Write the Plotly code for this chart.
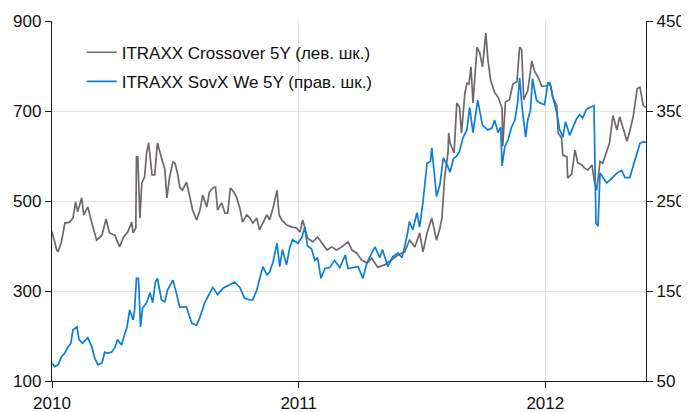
import plotly.graph_objects as go

# ITRAXX Crossover 5Y (left axis)
cross_dates = [
    "2010-01-01","2010-01-08","2010-01-10","2010-01-15","2010-01-20","2010-01-27","2010-02-01","2010-02-05",
    "2010-02-08","2010-02-14","2010-02-17","2010-02-23","2010-03-01","2010-03-08","2010-03-16","2010-03-22",
    "2010-03-27","2010-04-04","2010-04-11","2010-04-17","2010-04-23","2010-04-29","2010-05-01","2010-05-05",
    "2010-05-06","2010-05-08","2010-05-11","2010-05-14","2010-05-18","2010-05-21","2010-05-24","2010-05-29",
    "2010-06-02","2010-06-06","2010-06-12","2010-06-17","2010-06-20","2010-06-24","2010-06-29","2010-07-02",
    "2010-07-06","2010-07-09","2010-07-13","2010-07-19","2010-07-24","2010-07-28","2010-08-03","2010-08-08",
    "2010-08-12","2010-08-18","2010-08-22","2010-08-27","2010-08-31","2010-09-03","2010-09-09","2010-09-14",
    "2010-09-18","2010-09-22","2010-09-27","2010-10-01","2010-10-06","2010-10-10","2010-10-16","2010-10-21",
    "2010-10-25","2010-10-31","2010-11-04","2010-11-09","2010-11-15","2010-11-19","2010-11-24","2010-11-30",
    "2010-12-03","2010-12-07","2010-12-14","2010-12-22","2010-12-29","2011-01-03","2011-01-07","2011-01-14",
    "2011-01-22","2011-01-29","2011-02-04","2011-02-12","2011-02-19","2011-02-26","2011-03-06","2011-03-15",
    "2011-03-21","2011-03-28","2011-04-04","2011-04-12","2011-04-19","2011-04-28","2011-05-08","2011-05-19",
    "2011-05-28","2011-06-07","2011-06-14","2011-06-22","2011-06-29","2011-07-04","2011-07-10","2011-07-17",
    "2011-07-21","2011-07-24","2011-07-29","2011-08-01","2011-08-05","2011-08-10","2011-08-11","2011-08-13",
    "2011-08-19","2011-08-23","2011-08-27","2011-08-30","2011-09-04","2011-09-07","2011-09-10","2011-09-13",
    "2011-09-16","2011-09-22","2011-09-26","2011-09-30","2011-10-05","2011-10-08","2011-10-12","2011-10-18",
    "2011-10-23","2011-10-29","2011-10-30","2011-11-03","2011-11-09","2011-11-14","2011-11-20","2011-11-24",
    "2011-11-27","2011-11-30","2011-12-06","2011-12-12","2011-12-16","2011-12-21","2011-12-27","2012-01-03",
    "2012-01-08","2012-01-12","2012-01-18","2012-01-20","2012-01-25","2012-01-27","2012-02-02","2012-02-03",
    "2012-02-09","2012-02-14","2012-02-18","2012-02-24","2012-02-28","2012-03-04","2012-03-10","2012-03-14",
    "2012-03-17","2012-03-22","2012-03-26","2012-04-01","2012-04-05","2012-04-10","2012-04-16","2012-04-20",
    "2012-04-25","2012-05-01","2012-05-05","2012-05-10","2012-05-16","2012-05-20","2012-05-25","2012-05-29",
]
cross_vals = [
    432,391,387,409,451,453,462,498,
    476,507,469,487,451,413,424,460,
    429,424,398,420,431,453,429,440,
    598,598,462,540,553,607,629,558,
    558,629,596,570,507,553,587,584,
    560,531,524,542,509,480,458,480,
    513,487,520,529,531,480,496,473,
    473,529,520,509,484,453,469,462,
    451,462,436,451,469,458,484,524,
    469,458,447,442,440,431,458,418,
    409,420,407,391,398,391,398,409,
    391,384,369,362,373,353,358,369,
    380,387,413,398,429,387,429,462,
    429,413,440,462,553,607,651,629,
    607,718,709,651,740,762,760,798,
    718,842,829,798,873,815,769,741,
    731,707,622,720,725,760,765,842,
    836,725,745,811,789,776,755,756,
    762,730,712,651,640,602,598,551,
    560,613,585,580,573,569,580,541,
    524,588,584,613,629,690,658,687,
    664,633,655,687,750,753,712,708,
]

# ITRAXX SovX We 5Y (right axis)
sovx_dates = [
    "2010-01-01","2010-01-05","2010-01-10","2010-01-15","2010-01-20","2010-01-24","2010-01-29","2010-02-01",
    "2010-02-07","2010-02-10","2010-02-15","2010-02-23","2010-03-01","2010-03-05","2010-03-10","2010-03-16",
    "2010-03-20","2010-03-24","2010-03-30","2010-04-04","2010-04-08","2010-04-14","2010-04-17","2010-04-22",
    "2010-04-26","2010-05-01","2010-05-03","2010-05-06","2010-05-09","2010-05-12","2010-05-15","2010-05-21",
    "2010-05-26","2010-05-30","2010-06-03","2010-06-06","2010-06-12","2010-06-17","2010-06-21","2010-06-29",
    "2010-07-03","2010-07-08","2010-07-09","2010-07-19","2010-07-27","2010-08-03","2010-08-08","2010-08-15",
    "2010-08-22","2010-08-27","2010-09-03","2010-09-11","2010-09-21","2010-09-28","2010-10-06","2010-10-13",
    "2010-10-21","2010-10-25","2010-10-31","2010-11-04","2010-11-09","2010-11-15","2010-11-19","2010-11-24",
    "2010-11-30","2010-12-04","2010-12-08","2010-12-14","2010-12-19","2010-12-23","2010-12-31","2011-01-06",
    "2011-01-10","2011-01-14","2011-01-20","2011-01-25","2011-01-29","2011-02-03","2011-02-09","2011-02-16",
    "2011-02-23","2011-03-03","2011-03-11","2011-03-15","2011-03-22","2011-03-30","2011-04-06","2011-04-12",
    "2011-04-19","2011-04-24","2011-05-01","2011-05-05","2011-05-13","2011-05-20","2011-05-28","2011-06-03",
    "2011-06-10","2011-06-14","2011-06-19","2011-06-25","2011-06-29","2011-07-04","2011-07-10","2011-07-15",
    "2011-07-17","2011-07-21","2011-07-24","2011-07-29","2011-08-03","2011-08-09","2011-08-13","2011-08-18",
    "2011-08-23","2011-08-27","2011-09-01","2011-09-07","2011-09-11","2011-09-16","2011-09-23","2011-09-30",
    "2011-10-08","2011-10-14","2011-10-18","2011-10-23","2011-10-27","2011-10-29","2011-11-02","2011-11-07",
    "2011-11-12","2011-11-17","2011-11-21","2011-11-24","2011-11-28","2011-12-03","2011-12-06","2011-12-10",
    "2011-12-13","2011-12-19","2011-12-24","2011-12-31","2012-01-05","2012-01-09","2012-01-12","2012-01-18",
    "2012-01-22","2012-01-27","2012-01-31","2012-02-06","2012-02-11","2012-02-16","2012-02-21","2012-02-25",
    "2012-03-02","2012-03-07","2012-03-13","2012-03-16","2012-03-19","2012-03-22","2012-03-26","2012-04-01",
    "2012-04-05","2012-04-10","2012-04-16","2012-04-23","2012-04-28","2012-05-05","2012-05-10","2012-05-16",
    "2012-05-20","2012-05-25","2012-05-29",
]
sovx_vals = [
    70,66,68,77,81,87,92,107,
    110,96,92,98,88,76,68,70,
    82,81,82,87,96,90,98,110,
    129,118,127,164,164,110,131,137,
    148,137,160,164,140,138,151,162,
    151,137,132,132,114,112,121,137,
    146,154,146,153,157,160,154,142,
    140,140,151,164,177,168,171,182,
    203,177,196,179,199,207,203,210,
    221,200,197,184,187,164,175,176,
    184,176,190,175,176,177,164,181,
    192,199,187,196,177,188,192,187,
    210,227,218,237,221,249,292,294,
    309,277,255,268,298,290,282,297,
    300,305,320,329,354,326,362,334,
    329,331,340,326,332,289,310,318,
    332,340,359,387,351,321,340,351,
    386,362,359,357,382,378,366,348,
    330,321,338,323,332,341,346,342,
    352,354,356,225,222,281,277,270,
    273,277,281,284,276,276,288,303,
    314,316,315,
]

x_range = ["2010-01-01", "2012-05-29"]
x_tickvals = ["2010-01-01", "2011-01-01", "2012-01-01"]
x_ticktext = ["2010", "2011", "2012"]
left_range = [100, 900]
right_range = [50, 450]
names = ["ITRAXX Crossover 5Y (лев. шк.)", "ITRAXX SovX We 5Y (прав. шк.)"]

GRAY = "#6e686d"
BLUE = "#0a7fd6"
FONT = "Liberation Sans, Arial, sans-serif"
FS = 17

fig = go.Figure()
fig.add_trace(go.Scatter(x=cross_dates, y=cross_vals, name=names[0], mode="lines",
                         line=dict(color=GRAY, width=1.7), legendgroup="a", yaxis="y"))
fig.add_trace(go.Scatter(x=sovx_dates, y=sovx_vals, name=names[1], mode="lines",
                         line=dict(color=BLUE, width=1.7), legendgroup="b", yaxis="y2"))

axis_common = dict(showline=True, linecolor="#1a1a1a", linewidth=1.3,
                   ticks="outside", ticklen=6, tickcolor="#1a1a1a", tickwidth=1.3,
                   tickfont=dict(size=FS, color="#111111"), zeroline=False,
                   ticklabelstandoff=0, automargin=False)

# page body has an 8px margin; the figure is sized to fit the 689x412 window
fig.update_layout(
    width=681, height=404,
    margin=dict(l=44, r=43, t=13, b=31),
    paper_bgcolor="white", plot_bgcolor="white",
    font=dict(family=FONT, size=FS, color="#111111"),
    showlegend=True,
    legend=dict(x=0.05, y=0.962, xanchor="left", yanchor="top",
                bgcolor="rgba(0,0,0,0)", font=dict(size=FS),
                tracegroupgap=4, itemwidth=30),
    xaxis=dict(type="date", range=x_range, tickvals=x_tickvals, ticktext=x_ticktext,
               showgrid=True, gridcolor="#e3e3e3", gridwidth=1, **axis_common),
    yaxis=dict(range=left_range, dtick=200, tick0=100,
               showgrid=True, gridcolor="#e3e3e3", gridwidth=1, **axis_common),
    yaxis2=dict(range=right_range, dtick=100, tick0=50, overlaying="y", side="right",
                showgrid=False, **axis_common),
)

fig.write_html("out.html")
